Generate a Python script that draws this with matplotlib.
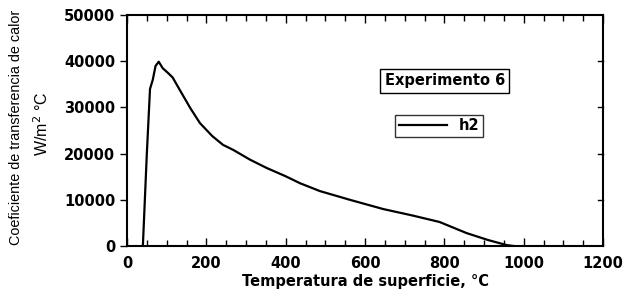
import matplotlib
matplotlib.use("Agg")
import matplotlib.pyplot as plt
from matplotlib.ticker import MultipleLocator

temp = [40, 50, 58, 65, 72, 80, 90, 103, 115, 133, 160, 184, 215, 242, 268, 310, 352, 400, 436, 486, 562, 646, 720, 788, 856, 910, 957, 975]
h2 = [0, 20000, 34000, 36000, 39000, 39900, 38500, 37500, 36500, 33800, 29800, 26600, 23800, 21900, 20800, 18700, 16900, 15100, 13600, 11900, 10000, 8000, 6600, 5200, 2800, 1300, 200, 0]

xticks = [0, 200, 400, 600, 800, 1000, 1200]
yticks = [0, 10000, 20000, 30000, 40000, 50000]

fig = plt.figure(figsize=(6.25, 2.9), dpi=100)
ax = fig.add_axes([0.2032, 0.1517, 0.7616, 0.7963])
ax.plot(temp, h2, color='black', lw=1.6, label='h2')
ax.set_xlim(0, 1200)
ax.set_ylim(0, 50000)
ax.set_xticks(xticks)
ax.set_yticks(yticks)
ax.xaxis.set_minor_locator(MultipleLocator(50))
ax.tick_params(axis='x', which='both', direction='in', top=True, bottom=True, length=4, width=1)
ax.tick_params(axis='x', which='major', length=6)
ax.tick_params(axis='y', which='major', direction='out', left=True, right=False, length=5, width=1)
for t in yticks[1:-1]:
    ax.plot([1200 - 12, 1200], [t, t], color='black', lw=1, clip_on=False)
for s in ax.spines.values():
    s.set_linewidth(1.5)
for lab in ax.get_xticklabels() + ax.get_yticklabels():
    lab.set_fontfamily('DejaVu Sans')
    lab.set_fontweight('bold')
    lab.set_fontsize(10.5)
ax.tick_params(axis='x', pad=7)
ax.set_xlabel('Temperatura de superficie, °C', fontsize=10.5, fontweight='bold', family='DejaVu Sans', labelpad=2)
fig.text(0.026, 0.56, 'Coeficiente de transferencia de calor', rotation=90, ha='center', va='center',
         fontsize=10.4, family=['Liberation Sans', 'DejaVu Sans'])
fig.text(0.066, 0.572, 'W/m$^2$ °C', rotation=90, ha='center', va='center',
         fontsize=11.5, family=['Liberation Sans', 'DejaVu Sans'])
ax.text(0.668, 0.715, 'Experimento 6', transform=ax.transAxes, ha='center', va='center',
        fontsize=10.5, fontweight='bold', family='DejaVu Sans',
        bbox=dict(boxstyle='square,pad=0.3', fc='white', ec='black', lw=1))
leg = ax.legend(loc='center', bbox_to_anchor=(0.655, 0.52), frameon=True, fancybox=False,
                edgecolor='black', handlelength=3.3,
                prop=dict(family='DejaVu Sans', weight='bold', size=10.5), borderpad=0.25)
leg.get_frame().set_linewidth(1)
fig.savefig('out.png', dpi=100)
